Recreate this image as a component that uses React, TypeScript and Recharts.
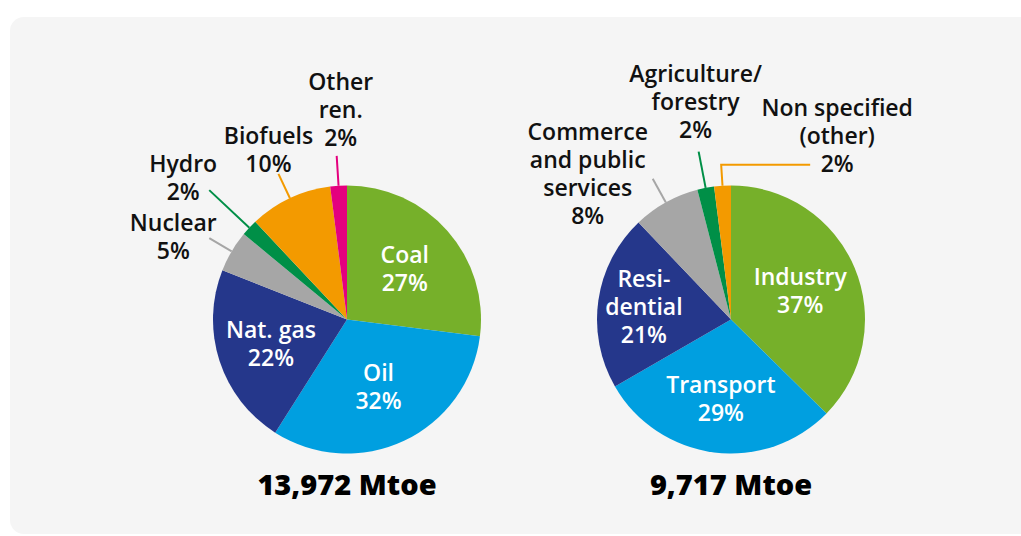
import React from 'react';
import { PieChart, Pie, Cell } from 'recharts';

// ---- Data ----
const supplyLabels = ['Coal', 'Oil', 'Nat. gas', 'Nuclear', 'Hydro', 'Biofuels', 'Other\nren.'];
const supplyShares = [27, 32, 22, 5, 2, 10, 2];
const supplyTotal = '13,972 Mtoe';

const consumptionLabels = ['Industry', 'Transport', 'Resi-\ndential', 'Commerce\nand public\nservices', 'Agriculture/\nforestry', 'Non specified\n(other)'];
const consumptionShares = [37, 29, 21, 8, 2, 2];
const consumptionTotal = '9,717 Mtoe';

// ---- Styles ----
const supplyColors = ['#76b02a', '#009fe0', '#25378b', '#a6a6a6', '#008f47', '#f39a00', '#e4007e'];
const consumptionColors = ['#76b02a', '#009fe0', '#25378b', '#a6a6a6', '#008f47', '#f39a00'];

type Layout =
  | { kind: 'in'; r: number }
  | { kind: 'out'; leader: number; dx: number; dy: number; elbow?: number };

const supplyLayout: Layout[] = [
  { kind: 'in', r: 77 },
  { kind: 'in', r: 74 },
  { kind: 'in', r: 80 },
  { kind: 'out', leader: 160, dx: -36, dy: -1 },
  { kind: 'out', leader: 189, dx: -26, dy: -12 },
  { kind: 'out', leader: 161, dx: -10, dy: -24 },
  { kind: 'out', leader: 164, dx: 4, dy: -46 },
];
const consumptionLayout: Layout[] = [
  { kind: 'in', r: 75 },
  { kind: 'in', r: 80 },
  { kind: 'in', r: 88 },
  { kind: 'out', leader: 161, dx: -65, dy: -5 },
  { kind: 'out', leader: 171, dx: -3, dy: -50 },
  { kind: 'out', leader: 155, dx: 116, dy: -29, elbow: 89 },
];

const FONT = '"Open Sans", "Noto Sans", sans-serif';
const FS = 23;
const LH = 28;
const RAD = Math.PI / 180;

const supplyData = supplyLabels.map((label, i) => ({ label, value: supplyShares[i] }));
const consumptionData = consumptionLabels.map((label, i) => ({ label, value: consumptionShares[i] }));

function makeLabel(layouts: Layout[], colors: string[]) {
  return (props: any) => {
    const { cx, cy, midAngle, outerRadius, index, payload } = props;
    const layout = layouts[index];
    const label: string = (payload && payload.label) || props.label || props.name;
    const value = (payload && payload.value) ?? props.value;
    const lines = [...String(label).split('\n'), `${value}%`];
    const cos = Math.cos(-midAngle * RAD);
    const sin = Math.sin(-midAngle * RAD);
    let tx: number;
    let ty: number;
    let line: React.ReactNode = null;
    let fill = '#111';
    if (layout.kind === 'in') {
      tx = cx + layout.r * cos;
      ty = cy + layout.r * sin;
      fill = '#ffffff';
    } else {
      const x1 = cx + outerRadius * cos;
      const y1 = cy + outerRadius * sin;
      const x2 = cx + layout.leader * cos;
      const y2 = cy + layout.leader * sin;
      const pts = layout.elbow ? `${x1},${y1} ${x2},${y2} ${x2 + layout.elbow},${y2}` : `${x1},${y1} ${x2},${y2}`;
      line = <polyline points={pts} fill="none" stroke={colors[index]} strokeWidth={2} />;
      tx = x2 + layout.dx;
      ty = y2 + layout.dy;
    }
    const firstBaseline = ty - ((lines.length - 1) * LH) / 2 + FS * 0.357;
    return (
      <g key={`lbl-${index}`}>
        {line}
        {lines.map((t, i) => (
          <text
            key={i}
            x={tx}
            y={firstBaseline + i * LH}
            textAnchor="middle"
            fill={fill}
            fontFamily={FONT}
            fontSize={FS}
            fontWeight={600}
          >
            {t}
          </text>
        ))}
      </g>
    );
  };
}

const titleStyle: React.CSSProperties = {
  position: 'absolute',
  top: 465,
  width: 300,
  textAlign: 'center',
  fontFamily: FONT,
  fontWeight: 800,
  fontSize: 29,
  lineHeight: '38px',
  color: '#000',
};

export default function App() {
  return (
    <div style={{ position: 'absolute', left: 0, top: 0, width: 1021, height: 536, background: '#ffffff', overflow: 'hidden' }}>
      <div
        style={{
          position: 'absolute',
          left: 10,
          top: 17,
          width: 1040,
          height: 517,
          background: '#f5f5f5',
          borderRadius: 14,
        }}
      />
      <div style={{ position: 'absolute', left: 0, top: 0 }}>
        <PieChart width={1021} height={536} margin={{ top: 0, right: 0, bottom: 0, left: 0 }}>
          <Pie
            data={supplyData}
            dataKey="value"
            nameKey="label"
            cx={347}
            cy={319.5}
            outerRadius={134}
            innerRadius={0}
            startAngle={90}
            endAngle={-270}
            stroke="none"
            isAnimationActive={false}
            labelLine={false}
            label={makeLabel(supplyLayout, supplyColors)}
          >
            {supplyData.map((_, i) => (
              <Cell key={i} fill={supplyColors[i]} />
            ))}
          </Pie>
          <Pie
            data={consumptionData}
            dataKey="value"
            nameKey="label"
            cx={731}
            cy={319.5}
            outerRadius={134}
            innerRadius={0}
            startAngle={90}
            endAngle={-270}
            stroke="none"
            isAnimationActive={false}
            labelLine={false}
            label={makeLabel(consumptionLayout, consumptionColors)}
          >
            {consumptionData.map((_, i) => (
              <Cell key={i} fill={consumptionColors[i]} />
            ))}
          </Pie>
        </PieChart>
      </div>
      <div style={{ ...titleStyle, left: 347 - 150 }}>{supplyTotal}</div>
      <div style={{ ...titleStyle, left: 731 - 150 }}>{consumptionTotal}</div>
    </div>
  );
}
